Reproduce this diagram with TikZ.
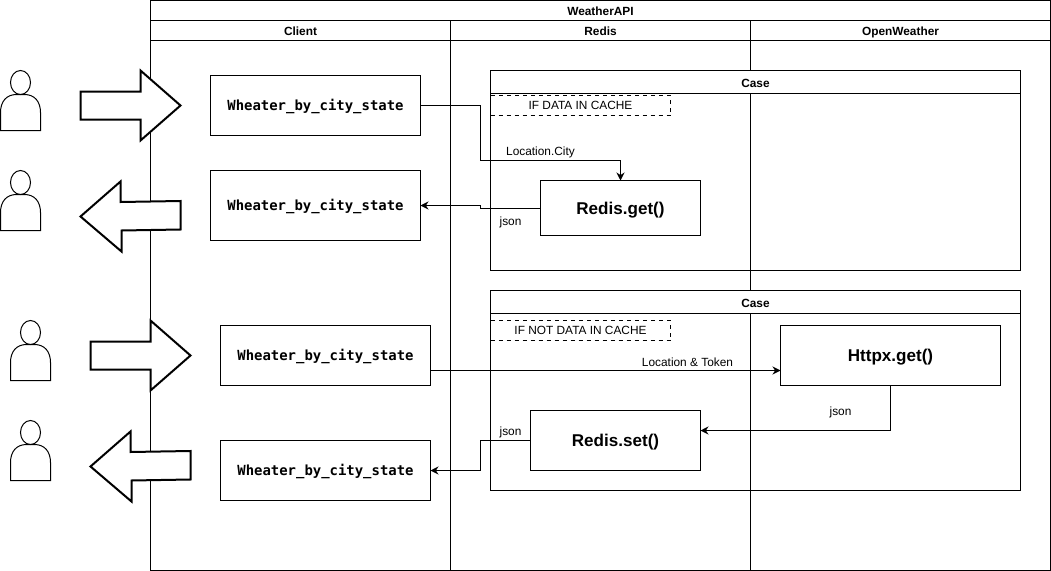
\documentclass[tikz,border=0pt]{standalone}
\usepackage{fontspec}
\usetikzlibrary{arrows.meta}
\setmainfont{Liberation Sans}
\newfontfamily\codefont{DejaVu Sans Mono}
\newcommand{\px}{0.75pt}

\begin{document}
\begin{tikzpicture}[x=\px, y=-\px, line width=\px, font=\fontsize{8.9}{10}\selectfont]
    % Define styles
    \tikzstyle{lane} = [rectangle, draw=black, inner sep=0pt, outer sep=0pt]
    \tikzstyle{title} = [lane, fill=white, text height=8.5pt, text depth=1pt, font=\fontsize{8.9}{10}\selectfont\bfseries]
    \tikzstyle{guard} = [lane, dashed, minimum width=180*\px, minimum height=20*\px]
    \tikzstyle{clientbox} = [lane, fill=white, minimum width=210*\px, text height=9.4pt, text depth=2.5pt, font=\codefont\fontsize{10.45}{12}\selectfont\bfseries]
    \tikzstyle{callbox} = [lane, fill=white, text height=12pt, text depth=2.4pt, font=\fontsize{12.8}{14}\selectfont\bfseries]
    \tikzstyle{arrow} = [-{Stealth[length=8*\px, width=8*\px]}]
    \tikzstyle{bigarrow} = [line width=2*\px, fill=white, line join=miter]
    \tikzset{person/.pic={
        \draw (20,12) ellipse [x radius=10, y radius=12];
        \draw (0,60) -- (0,42) .. controls (0,31) and (6,24) .. (16,24) -- (24,24)
            .. controls (34,24) and (40,31) .. (40,42) -- (40,60) -- cycle;
    }}
    \useasboundingbox (-0.5,-0.5) rectangle (1050.5,570.5);

    % Lanes
    \node (api) [title, minimum width=900*\px, minimum height=20*\px] at (600,10) {WeatherAPI};
    \node (client) [title, minimum width=300*\px, minimum height=20*\px] at (300,30) {Client};
    \node (redis) [title, minimum width=300*\px, minimum height=20*\px] at (600,30) {Redis};
    \node (open) [title, minimum width=300*\px, minimum height=20*\px] at (900,30) {OpenWeather};
    \node (clientbody) [lane, minimum width=300*\px, minimum height=530*\px] at (300,305) {};
    \node (redisbody) [lane, minimum width=300*\px, minimum height=530*\px] at (600,305) {};
    \node (openbody) [lane, minimum width=300*\px, minimum height=530*\px] at (900,305) {};

    % Cases
    \node (casea) [lane, minimum width=530*\px, minimum height=200*\px] at (755,170) {};
    \node (caseahead) [title, minimum width=530*\px, minimum height=23*\px] at (755,81.5) {\raisebox{-0.6pt}{Case}};
    \node (ifa) [guard] at (580,105) {IF DATA IN CACHE};
    \node (caseb) [lane, minimum width=530*\px, minimum height=200*\px] at (755,390) {};
    \node (casebhead) [title, minimum width=530*\px, minimum height=23*\px] at (755,301.5) {\raisebox{-0.6pt}{Case}};
    \node (ifb) [guard] at (580,330) {IF NOT DATA IN CACHE};

    % Users
    \pic (usera) at (0,70) {person};
    \pic (userb) at (0,170) {person};
    \pic (userc) at (10,320) {person};
    \pic (userd) at (10,420) {person};

    % Big arrows
    \draw [bigarrow] (80,91) -- (140,91) -- (140,70) -- (180,105) -- (140,140) -- (140,119) -- (80,119) -- cycle;
    \draw [bigarrow] (180,200.5) -- (120,201.5) -- (120,181) -- (80,216) -- (121,251) -- (121,230) -- (180,229) -- cycle;
    \draw [bigarrow] (90,341) -- (150,341) -- (150,320) -- (190,355) -- (150,390) -- (150,369) -- (90,369) -- cycle;
    \draw [bigarrow] (190,450.5) -- (130,451.5) -- (130,431) -- (90,466) -- (131,501) -- (131,480) -- (190,479) -- cycle;

    % Nodes
    \node (statea) [clientbox, minimum height=60*\px] at (315,105) {Wheater\_by\_city\_state};
    \node (stateb) [clientbox, minimum height=70*\px] at (315,205) {Wheater\_by\_city\_state};
    \node (statec) [clientbox, minimum height=60*\px] at (325,355) {Wheater\_by\_city\_state};
    \node (stated) [clientbox, minimum height=60*\px] at (325,470) {Wheater\_by\_city\_state};
    \node (redisget) [callbox, minimum width=160*\px, minimum height=55*\px] at (620,207.5) {Redis.get()};
    \node (httpxget) [callbox, minimum width=220*\px, minimum height=60*\px] at (890,355) {Httpx.get()};
    \node (redisset) [callbox, minimum width=170*\px, minimum height=60*\px] at (615,440) {Redis.set()};
    \coordinate (statecout) at (430,370);
    \coordinate (httpxin) at (780,370);
    \coordinate (redissetin) at (700,430);

    % Arrows
    \draw [arrow] (statea.east) -- ++(60,0) -- ++(0,55) -| (redisget.north);
    \draw [arrow] (redisget.west) -- ++(-60,0) |- (stateb.east);
    \draw [arrow] (statecout) -- (httpxin);
    \draw [arrow] (httpxget.south) |- (redissetin);
    \draw [arrow] (redisset.west) -- ++(-50,0) |- (stated.east);

    % Labels
    \node (citylabel) at (540,151.5) {Location.City};
    \node (jsona) at (510,221.5) {json};
    \node (tokenlabel) at (687,361.5) {Location \& Token};
    \node (jsonb) at (840,411.5) {json};
    \node (jsonc) at (510,431.5) {json};
\end{tikzpicture}
\end{document}
